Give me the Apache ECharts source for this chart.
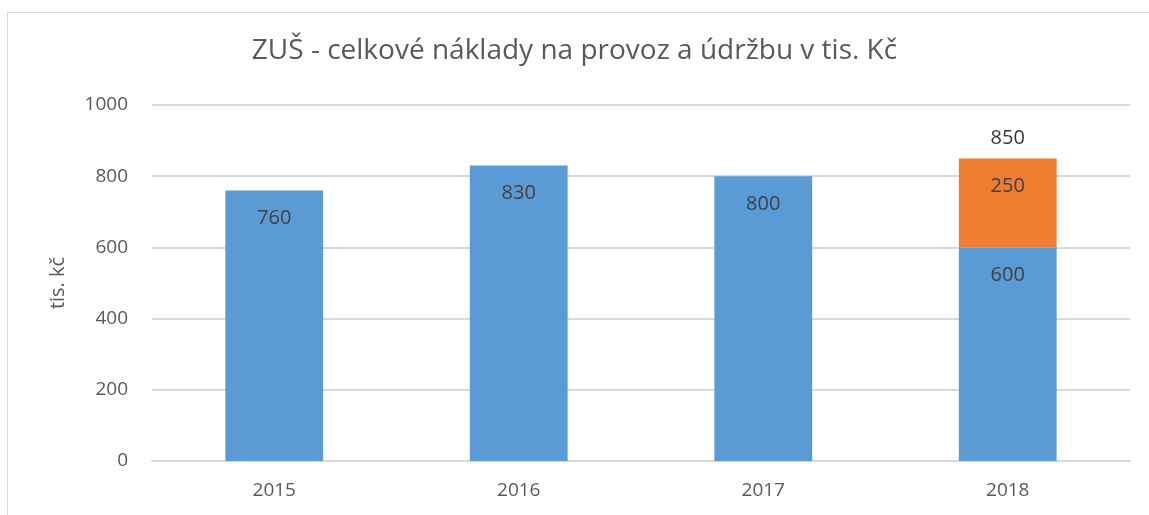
<!DOCTYPE html>
<html>
<head>
<meta charset="utf-8">
<script src="https://cdn.jsdelivr.net/npm/echarts@6/dist/echarts.min.js"></script>
<style>
  html, body { margin: 0; padding: 0; background: #fff; }
  #frame {
    position: absolute; left: 7px; top: 12px; width: 1160px; height: 520px;
    border-left: 1px solid #d9d9d9; border-top: 1px solid #d9d9d9;
  }
  #chartBox { position: absolute; left: 0; top: 0; width: 1149px; height: 515px; }
</style>
</head>
<body>
<div id="frame"></div>
<div id="chartBox"></div>
<script>
  var years = ['2015', '2016', '2017', '2018'];
  var provoz = [760, 830, 800, 600];       // modrá část
  var udrzba = [null, null, null, 250];    // oranžová část
  var celkem = [null, null, null, 850];    // popisek nad sloupcem
  var yTicks = [0, 200, 400, 600, 800, 1000];

  var chart = echarts.init(document.getElementById('chartBox'));
  var font = 'Open Sans';

  var option = {
    animation: false,
    title: {
      text: 'ZUŠ - celkové náklady na provoz a údržbu v tis. Kč',
      left: 'center',
      top: 32,
      textStyle: { fontFamily: font, fontSize: 28, fontWeight: 'normal', color: '#595959' }
    },
    grid: { left: 152, right: 19, top: 105, bottom: 54 },
    xAxis: {
      type: 'category',
      data: years,
      axisLine: { lineStyle: { color: '#d9d9d9', width: 2 } },
      axisTick: { show: false },
      axisLabel: { fontFamily: font, fontSize: 19, color: '#595959', margin: 20 }
    },
    yAxis: {
      type: 'value',
      min: yTicks[0],
      max: yTicks[yTicks.length - 1],
      interval: 200,
      name: 'tis. kč',
      nameLocation: 'middle',
      nameGap: 84,
      nameRotate: 90,
      nameTextStyle: { fontFamily: font, fontSize: 20, color: '#595959' },
      axisLine: { show: false },
      axisTick: { show: false },
      axisLabel: {
        fontFamily: font, fontSize: 19, color: '#595959', margin: 24,
        formatter: function (v) { return String(v); }
      },
      splitLine: { lineStyle: { color: '#d9d9d9', width: 2 } }
    },
    series: [
      {
        name: 'provoz',
        type: 'bar',
        stack: 'n',
        barWidth: '40%',
        data: provoz,
        itemStyle: { color: '#5b9bd5' },
        label: {
          show: true, position: 'insideTop', distance: 18,
          fontFamily: font, fontSize: 20, color: '#404040'
        }
      },
      {
        name: 'udrzba',
        type: 'bar',
        stack: 'n',
        barWidth: '40%',
        data: udrzba,
        itemStyle: { color: '#ed7d31' },
        label: {
          show: true, position: 'insideTop', distance: 18,
          fontFamily: font, fontSize: 20, color: '#404040'
        }
      },
      {
        name: 'celkem',
        type: 'scatter',
        data: celkem,
        symbolSize: 0,
        label: {
          show: true, position: 'top', distance: 10,
          fontFamily: font, fontSize: 20, color: '#000000'
        }
      }
    ]
  };

  chart.setOption(option);
  window.onresize = chart.resize;
</script>
</body>
</html>
